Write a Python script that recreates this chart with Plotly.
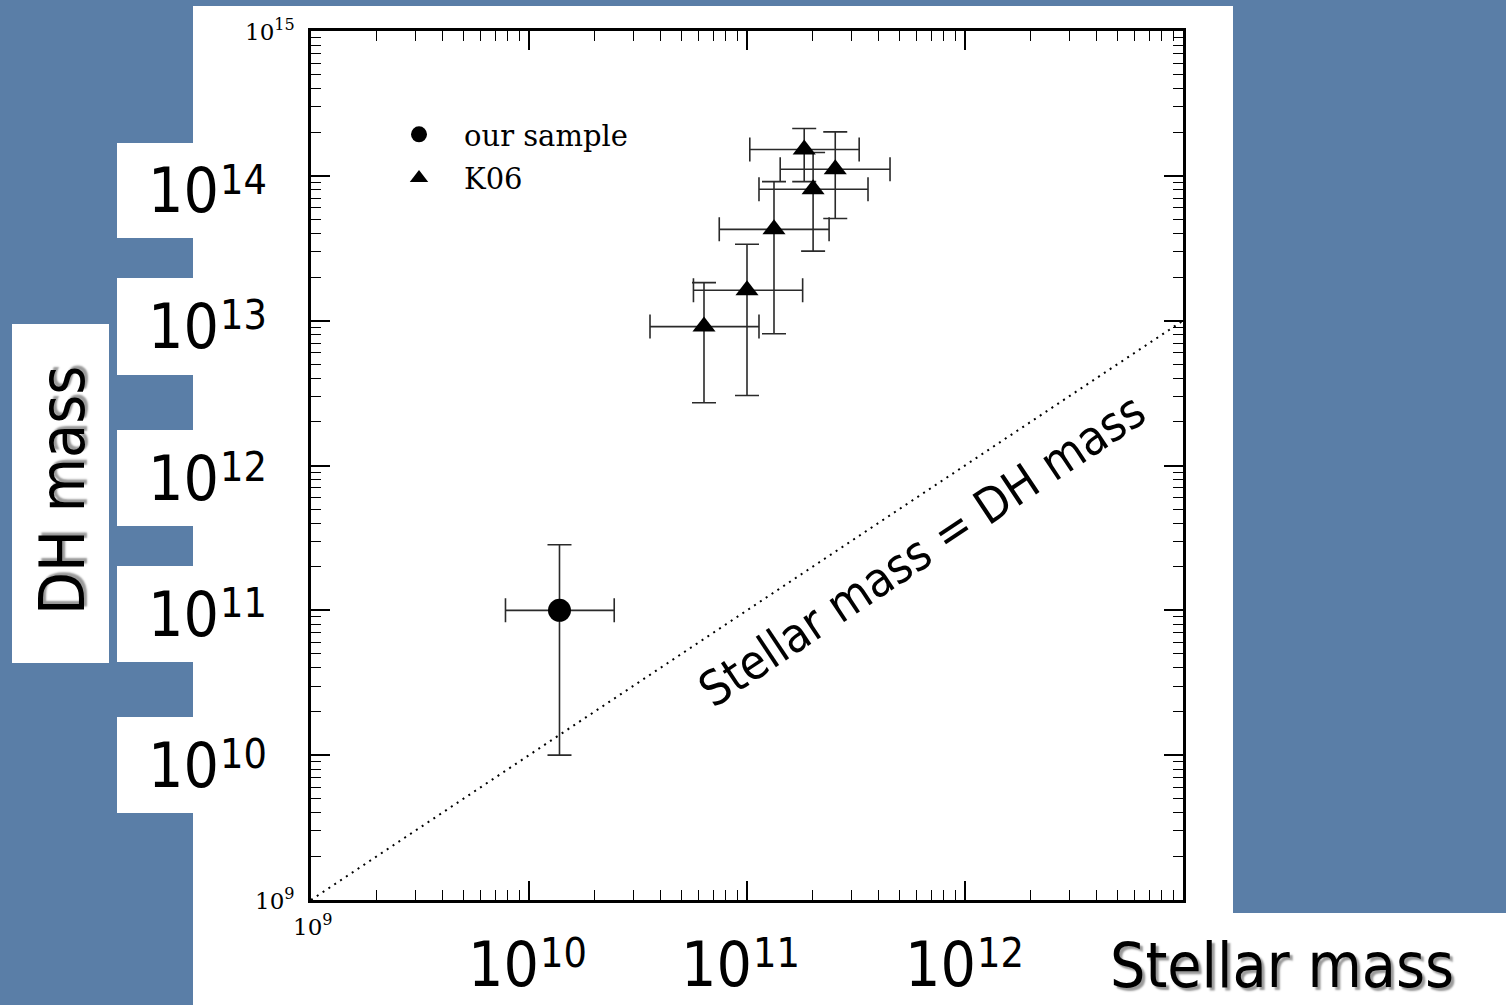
import plotly.graph_objects as go

# ---------------- data ----------------
# our sample (single galaxy): stellar mass and dark-halo mass with error ranges
sample_mstar = [1.38e10]
sample_mstar_lo = [7.8e9]
sample_mstar_hi = [2.46e10]
sample_mdh = [1.0e11]
sample_mdh_lo = [1.0e10]
sample_mdh_hi = [2.84e11]

# K06 comparison sample
k06_mstar = [6.35e10, 1.00e11, 1.33e11, 2.01e11, 1.83e11, 2.54e11]
k06_mstar_lo = [3.59e10, 5.68e10, 7.46e10, 1.135e11, 1.03e11, 1.42e11]
k06_mstar_hi = [1.135e11, 1.80e11, 2.38e11, 3.59e11, 3.27e11, 4.53e11]
k06_mdh = [9.1e12, 1.62e13, 4.27e13, 8.07e13, 1.52e14, 1.11e14]
k06_mdh_lo = [2.71e12, 3.04e12, 8.13e12, 3.02e13, 9.12e13, 5.08e13]
k06_mdh_hi = [1.83e13, 3.37e13, 9.12e13, 1.45e14, 2.12e14, 2.01e14]

# equality line: stellar mass = DH mass
equality_line = [1e9, 1e13]

# axis decades and tick labels
x_decades = [9, 10, 11, 12, 13]
y_decades = [9, 10, 11, 12, 13, 14, 15]
x_small_labels = [9]
y_small_labels = [9, 15]
x_big_exponents = [10, 11, 12]
y_big_exponents = [14, 13, 12, 11, 10]

# ---------------- page geometry ----------------
W, H = 1506, 1005
ML, MR, MT, MB = 311, 323, 31, 105
PW = W - ML - MR
PH = H - MT - MB


def px(x):
    return (x - ML) / PW


def py(y):
    return (H - MB - y) / PH


SLIDE_BLUE = "#5a7ea7"
BIG_FONT = "DejaVu Sans Condensed, Liberation Sans, sans-serif"
SERIF = "DejaVu Serif, Liberation Serif, serif"


def minus(c, lo):
    return [a - b for a, b in zip(c, lo)]


def plus(c, hi):
    return [b - a for a, b in zip(c, hi)]


fig = go.Figure()

fig.add_trace(go.Scatter(
    x=equality_line, y=equality_line, mode="lines",
    line=dict(color="black", width=2, dash="2px,5px"),
    showlegend=False, hoverinfo="skip",
))

err_style = dict(type="data", symmetric=False, color="#2a2a2a", thickness=1.6, width=12)

fig.add_trace(go.Scatter(
    x=sample_mstar, y=sample_mdh, mode="markers", name="our sample",
    legendgroup="a",
    marker=dict(symbol="circle", size=23, color="black"),
    error_x=dict(array=plus(sample_mstar, sample_mstar_hi),
                 arrayminus=minus(sample_mstar, sample_mstar_lo), **err_style),
    error_y=dict(array=plus(sample_mdh, sample_mdh_hi),
                 arrayminus=minus(sample_mdh, sample_mdh_lo), **err_style),
))

fig.add_trace(go.Scatter(
    x=k06_mstar, y=k06_mdh, mode="markers", name="K06",
    legendgroup="b",
    marker=dict(symbol="triangle-up", size=20, color="black"),
    error_x=dict(array=plus(k06_mstar, k06_mstar_hi),
                 arrayminus=minus(k06_mstar, k06_mstar_lo), **err_style),
    error_y=dict(array=plus(k06_mdh, k06_mdh_hi),
                 arrayminus=minus(k06_mdh, k06_mdh_lo), **err_style),
))

# ---------------- slide panels ----------------
shapes = []


def white_box(x0, y0, x1, y1):
    shapes.append(dict(type="rect", xref="paper", yref="paper",
                       x0=px(x0), x1=px(x1), y0=py(y1), y1=py(y0),
                       fillcolor="white", line=dict(width=0), layer="below"))


white_box(193, 6, 1233, 1005)
white_box(1100, 913, 1506, 1005)
white_box(12, 324, 109, 663)
y_boxes = [(143, 238), (278, 375), (430, 526), (566, 662), (717, 813)]
for top, bottom in y_boxes:
    white_box(117, top, 194, bottom)

# ---------------- labels ----------------
annotations = []


def power_label(cx, cy, exponent):
    annotations.append(dict(
        xref="paper", yref="paper", x=px(cx + 16), y=py(cy),
        xanchor="right", yanchor="middle", showarrow=False,
        text="10", font=dict(family=BIG_FONT, size=62, color="black")))
    annotations.append(dict(
        xref="paper", yref="paper", x=px(cx + 13), y=py(cy - 11),
        xanchor="left", yanchor="middle", showarrow=False,
        text=str(exponent), font=dict(family=BIG_FONT, size=41, color="black")))


x_label_centers = [525, 738, 962]
for cx, e in zip(x_label_centers, x_big_exponents):
    power_label(cx, 964, e)

y_label_centers = [(a + b) / 2 for a, b in y_boxes]
for cy, e in zip(y_label_centers, y_big_exponents):
    power_label(205, cy, e)

# small serif tick labels of the plot frame
for d in y_small_labels:
    annotations.append(dict(
        xref="paper", yref="y", x=px(297), y=d, yshift=1,
        xanchor="right", yanchor="middle", showarrow=False,
        text=f"10<sup>{d}</sup>", font=dict(family=SERIF, size=23, color="black")))
for d in x_small_labels:
    annotations.append(dict(
        xref="x", yref="paper", x=d, y=py(908), xshift=2,
        xanchor="center", yanchor="top", showarrow=False,
        text=f"10<sup>{d}</sup>", font=dict(family=SERIF, size=23, color="black")))

shadow = "3px 3px 2px #9a9a9a"
annotations.append(dict(
    xref="paper", yref="paper", x=px(62), y=py(491), showarrow=False,
    text="DH mass", textangle=-90, xanchor="center", yanchor="middle",
    font=dict(family=BIG_FONT, size=62, color="black", shadow=shadow)))
annotations.append(dict(
    xref="paper", yref="paper", x=px(1282), y=py(965), showarrow=False,
    text="Stellar mass", xanchor="center", yanchor="middle",
    font=dict(family=BIG_FONT, size=62, color="black", shadow=shadow)))

# label along the equality line
annotations.append(dict(
    xref="x", yref="y", x=11.80, y=11.42, showarrow=False,
    text="Stellar mass = DH mass", textangle=-33.6,
    font=dict(family=BIG_FONT, size=48, color="black")))

minor_vals = [m * 10 ** k for k in range(9, 15) for m in range(2, 10)]

axis_common = dict(
    type="log", showgrid=False, zeroline=False,
    showline=True, linecolor="black", linewidth=2.5, mirror="allticks",
    ticks="inside", ticklen=19, tickwidth=1.6, tickcolor="black",
    showticklabels=False,
    minor=dict(ticks="inside", ticklen=10, tickwidth=1.3, tickcolor="black",
               showgrid=False, tickmode="array", tickvals=minor_vals),
)

fig.update_layout(
    width=W, height=H,
    margin=dict(l=ML, r=MR, t=MT, b=MB, pad=0),
    paper_bgcolor=SLIDE_BLUE, plot_bgcolor="white",
    xaxis=dict(range=[9, 13], tickmode="array",
               tickvals=[10 ** d for d in x_decades], **axis_common),
    yaxis=dict(range=[9, 15], tickmode="array",
               tickvals=[10 ** d for d in y_decades], **axis_common),
    legend=dict(x=px(374), y=py(109), xanchor="left", yanchor="top",
                bgcolor="rgba(0,0,0,0)", itemwidth=80, tracegroupgap=3,
                font=dict(family=SERIF, size=29, color="black")),
    shapes=shapes, annotations=annotations,
    showlegend=True,
)

fig.write_html("out.html", config={"displayModeBar": False})
